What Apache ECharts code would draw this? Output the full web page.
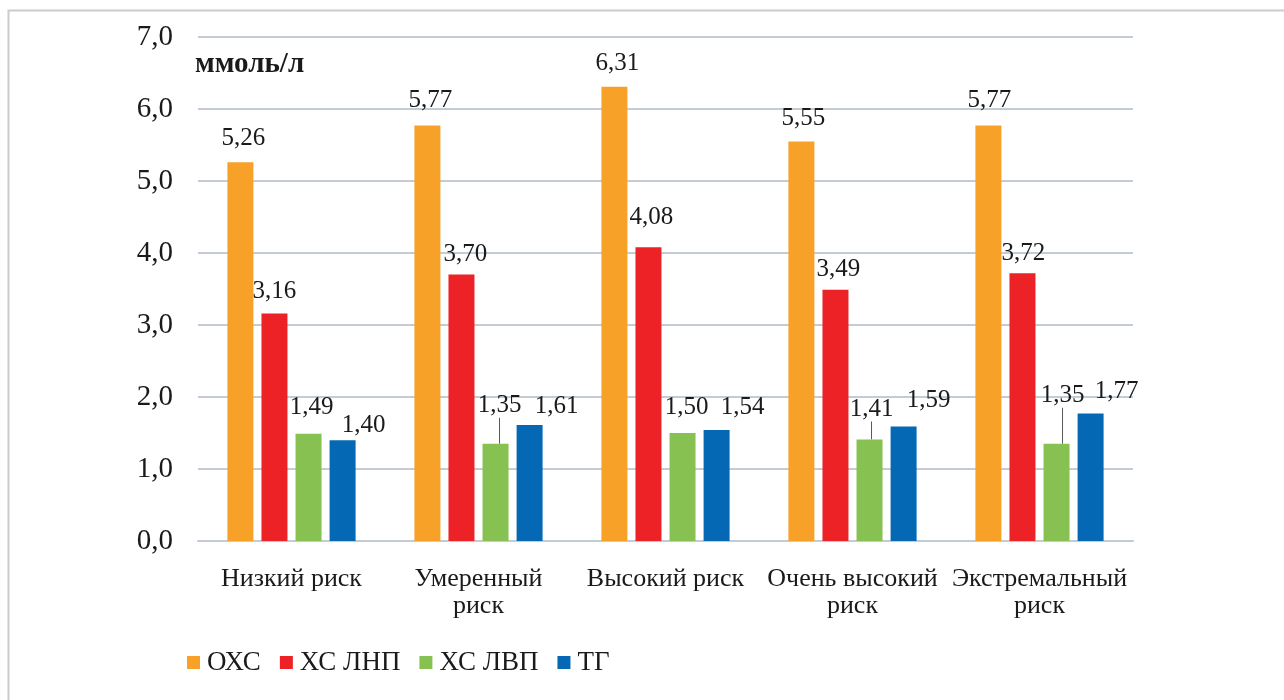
<!DOCTYPE html>
<html>
<head>
<meta charset="utf-8">
<script src="https://cdn.jsdelivr.net/npm/echarts@6/dist/echarts.min.js"></script>
<style>
  html, body { margin: 0; padding: 0; background: #ffffff; }
  #chart { width: 1284px; height: 700px; }
</style>
</head>
<body>
<div id="chart"></div>
<script>
// Lipid profile by cardiovascular risk group, mmol/L
const categories = ['Низкий риск', 'Умеренный\nриск', 'Высокий риск', 'Очень высокий\nриск', 'Экстремальный\nриск'];
const seriesNames = ['ОХС', 'ХС ЛНП', 'ХС ЛВП', 'ТГ'];
const totalChol = [5.26, 5.77, 6.31, 5.55, 5.77];
const ldlChol = [3.16, 3.70, 4.08, 3.49, 3.72];
const hdlChol = [1.49, 1.35, 1.50, 1.41, 1.35];
const triglycerides = [1.40, 1.61, 1.54, 1.59, 1.77];
const yTicks = { min: 0, max: 7, step: 1 };
const unitLabel = 'ммоль/л';

// label nudges [dx, dy] per series, per category, so neighbouring labels do not collide
const labelNudge = [
  [[3, 0], [3, -2], [3, 0], [2, 1], [1, -2]],
  [[0, 1], [4, 3], [3, -6], [3, 3], [1, 4]],
  [[3, -3], [4, -15], [4, -2], [2, -7], [6, -25]],
  [[21, 9], [27, 5], [26, 1], [25, -3], [26, 1]]
];
// labels that are lifted off their bar and get a guide line
const guided = [[false, false, false, false, false], [false, false, false, false, false],
                [false, true, false, true, true], [false, false, false, false, false]];

const colors = ['#F7A128', '#EC2227', '#86C151', '#0568B4'];
const serif = '"Liberation Serif", "DejaVu Serif", serif';
const ink = '#1a1a1a';
const fmt2 = v => v.toFixed(2).replace('.', ',');

const valueSets = [totalChol, ldlChol, hdlChol, triglycerides];

const series = valueSets.map((vals, si) => ({
  name: seriesNames[si],
  type: 'bar',
  barWidth: 26,
  barGap: '31%',
  itemStyle: { color: colors[si] },
  label: {
    show: true,
    position: 'top',
    distance: 11,
    fontFamily: serif,
    fontSize: 25,
    color: ink,
    formatter: p => fmt2(p.value)
  },
  labelLine: { show: false, lineStyle: { color: '#595959', width: 1 } },
  labelLayout: params => {
    const n = labelNudge[si][params.dataIndex];
    return { dx: n[0], dy: n[1] };
  },
  data: vals.map((v, ci) => {
    const item = { value: v };
    if (guided[si][ci]) {
      item.labelLine = { show: true, lineStyle: { color: '#595959', width: 1 } };
    }
    return item;
  })
}));

const chart = echarts.init(document.getElementById('chart'), null, { renderer: 'canvas' });
chart.setOption({
  backgroundColor: '#ffffff',
  animation: false,
  textStyle: { fontFamily: serif },
  grid: { left: 198, right: 151, top: 37, bottom: 159, containLabel: false },
  legend: {
    left: 182,
    top: 644,
    itemWidth: 13,
    itemHeight: 13,
    itemGap: 19,
    icon: 'rect',
    textStyle: { fontFamily: serif, fontSize: 27, color: ink, padding: [0, 0, 0, 2] },
    data: seriesNames
  },
  xAxis: {
    type: 'category',
    data: categories,
    axisLine: { show: true, lineStyle: { color: '#c3ccd4', width: 2 } },
    axisTick: { show: false },
    axisLabel: {
      interval: 0,
      margin: 25,
      fontFamily: serif,
      fontSize: 26,
      lineHeight: 27,
      color: ink
    }
  },
  yAxis: {
    type: 'value',
    min: yTicks.min,
    max: yTicks.max,
    interval: yTicks.step,
    axisLine: { show: false },
    axisTick: { show: false },
    splitLine: { lineStyle: { color: '#c3ccd4', width: 2 } },
    axisLabel: {
      margin: 25,
      fontFamily: serif,
      fontSize: 29,
      color: ink,
      formatter: v => v.toFixed(1).replace('.', ',')
    }
  },
  graphic: [
    {
      type: 'text',
      left: 195,
      top: 50,
      style: { text: unitLabel, font: 'bold 29px ' + serif, fill: ink }
    },
    {
      type: 'polyline',
      shape: { points: [[8.5, 700], [8.5, 10.5], [1284, 10.5]] },
      style: { stroke: '#cccccc', lineWidth: 2, fill: null }
    }
  ],
  series: series
});
</script>
</body>
</html>
